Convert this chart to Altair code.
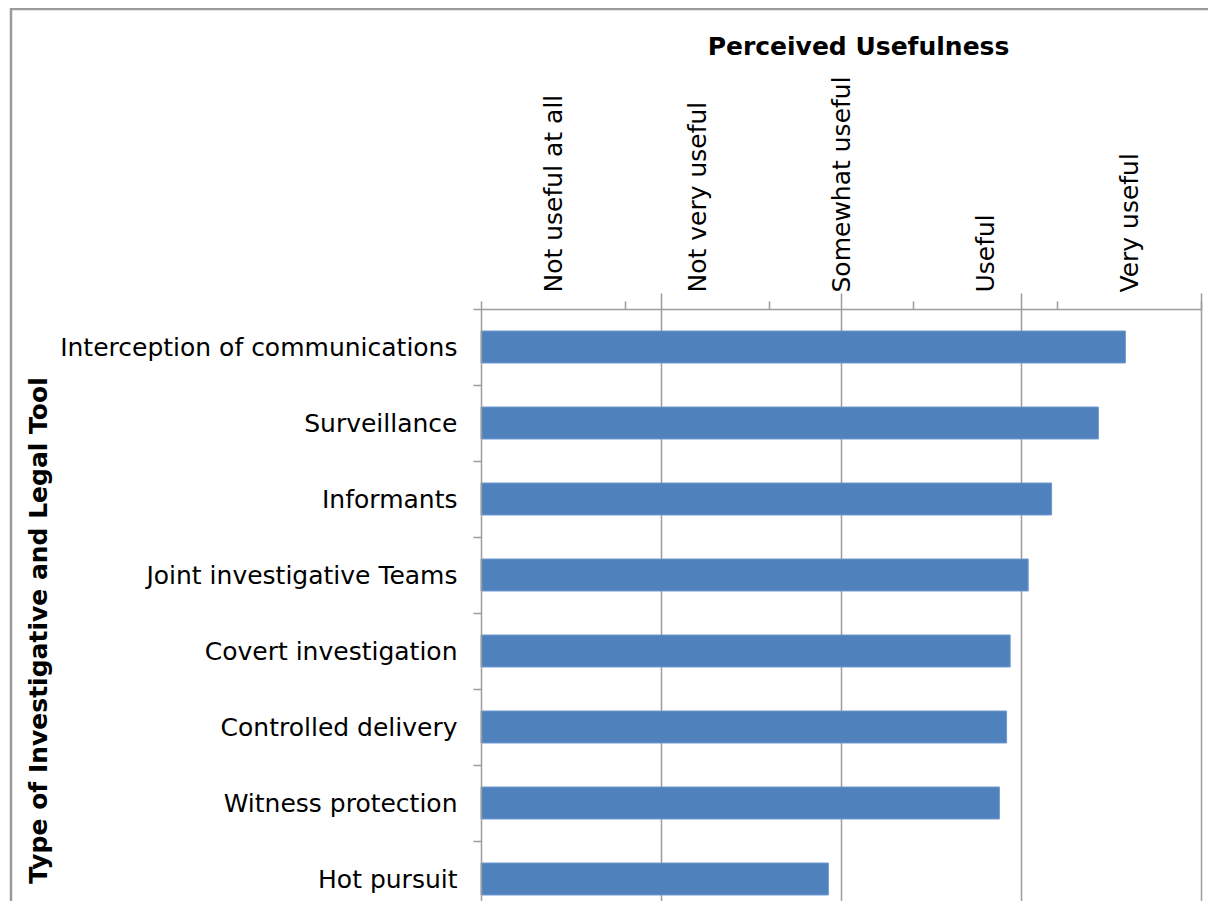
import altair as alt
import pandas as pd

tools = [
    "Interception of communications",
    "Surveillance",
    "Informants",
    "Joint investigative Teams",
    "Covert investigation",
    "Controlled delivery",
    "Witness protection",
    "Hot pursuit",
]
scores = [4.58, 4.43, 4.17, 4.04, 3.94, 3.92, 3.88, 2.93]
levels = ["Not useful at all", "Not very useful", "Somewhat useful", "Useful", "Very useful"]
grid_values = [2, 3, 4, 5]

df = pd.DataFrame({"tool": tools, "score": scores})
lev_df = pd.DataFrame({"level": levels})
tool_df = pd.DataFrame({"tool": tools})
frame_df = pd.DataFrame({"k": [0]})

FONT = "DejaVu Sans"
GRAY = "#9c9c9c"

frame = alt.Chart(frame_df).mark_rect(
    fill="transparent", stroke="#9a9a9a", strokeWidth=2.5
).encode(
    x=alt.value(-470), x2=alt.value(800), y=alt.value(-300), y2=alt.value(800)
)

top_axis = alt.Chart(lev_df).mark_rect(opacity=0).encode(
    x=alt.X(
        "level:N",
        sort=levels,
        scale=alt.Scale(type="band", paddingInner=0, paddingOuter=0),
        axis=alt.Axis(
            orient="top",
            tickBand="extent",
            tickSize=8,
            tickColor=GRAY,
            tickWidth=1.5,
            domainColor=GRAY,
            domainWidth=1.5,
            labelAngle=270,
            labelAlign="left",
            labelBaseline="middle",
            labelPadding=9,
            labelFont=FONT,
            labelFontSize=25,
            labelColor="#000000",
            labelLimit=400,
            title="Perceived Usefulness",
            titleFont=FONT,
            titleFontSize=25,
            titleFontWeight="bold",
            titleColor="#000000",
            titleX=377,
            titleY=-255,
            titleAlign="center",
            titleBaseline="alphabetic",
            titleAngle=0,
        ),
    )
)

left_axis = alt.Chart(tool_df).mark_rect(opacity=0).encode(
    y=alt.Y(
        "tool:N",
        sort=tools,
        scale=alt.Scale(type="band", range=[0, 608], paddingInner=0, paddingOuter=0),
        axis=alt.Axis(
            orient="left",
            tickBand="extent",
            tickSize=8,
            tickColor=GRAY,
            tickWidth=1.5,
            domainColor=GRAY,
            domainWidth=1.5,
            labelPadding=16,
            labelFont=FONT,
            labelFontSize=25,
            labelColor="#000000",
            labelLimit=600,
            title="Type of Investigative and Legal Tool",
            titleFont=FONT,
            titleFontSize=25,
            titleFontWeight="bold",
            titleColor="#000000",
            titleAngle=270,
            titleX=-435,
            titleY=321,
            titleAlign="center",
            titleBaseline="alphabetic",
        ),
    )
)

bars = alt.Chart(df).mark_bar(color="#4F81BD", stroke="#6f9ad0", strokeWidth=1).encode(
    x=alt.X(
        "score:Q",
        scale=alt.Scale(domain=[1, 5], nice=False, zero=False),
        axis=alt.Axis(
            orient="bottom",
            grid=True,
            values=grid_values,
            gridColor=GRAY,
            gridWidth=1.5,
            labels=False,
            ticks=False,
            domain=False,
            title=None,
        ),
    ),
    x2=alt.datum(1),
    y=alt.Y(
        "tool:N",
        sort=tools,
        scale=alt.Scale(range=[0, 608], paddingInner=0.579, paddingOuter=0.2895),
        axis=None,
    ),
)

chart = (
    alt.layer(frame, top_axis, left_axis, bars)
    .resolve_scale(x="independent", y="independent")
    .resolve_axis(x="independent", y="independent")
    .properties(
        width=720,
        height=592,
        autosize=alt.AutoSizeParams(type="none"),
        padding={"left": 473, "top": 301, "right": 7, "bottom": 0},
        background="white",
    )
    .configure_view(stroke="transparent")
)

chart.save("out.html", embed_options={"renderer": "svg", "actions": False})
